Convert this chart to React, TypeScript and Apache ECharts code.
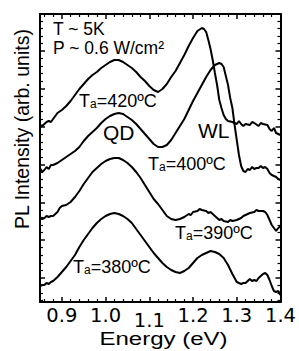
import React, { useEffect, useRef } from "react";
import * as echarts from "echarts";

// PL spectra (energy eV, intensity arb. units incl. vertical offset)
const pl420: [number, number][] = [
  [0.85,177],[0.855,176],[0.86,178],[0.865,180],[0.87,181],[0.875,180],[0.88,183],[0.885,186],[0.89,189],
  [0.90,192],[0.91,196],[0.92,201],[0.93,207],[0.94,213],[0.95,218],[0.96,223],[0.97,227],[0.98,230],[0.99,234],
  [1.00,237],[1.01,240],[1.02,242],[1.03,242],[1.04,240],[1.05,237],[1.06,234],[1.07,230],[1.08,225],[1.09,221],
  [1.10,216],[1.11,212],[1.12,210],[1.13,213],[1.14,218],[1.15,225],[1.16,231],[1.17,239],[1.18,247],[1.19,256],
  [1.20,264],[1.21,271],[1.22,274],[1.225,273],[1.23,270],[1.235,262],[1.24,253],[1.245,242],[1.25,229],[1.255,217],
  [1.26,202],[1.265,194],[1.27,187],[1.275,183],[1.28,181],[1.29,180],[1.30,178],[1.305,181],[1.31,178],[1.315,176],
  [1.32,178],[1.33,177],[1.335,180],[1.34,179],[1.35,176],[1.355,179],[1.36,178],[1.37,177],[1.375,173],[1.38,171],
  [1.385,174],[1.39,169],[1.395,168],[1.40,167],
];
const pl400: [number, number][] = [
  [0.85,134],[0.855,130],[0.86,132],[0.865,135],[0.87,133],[0.875,137],[0.88,137],[0.89,139],
  [0.90,142],[0.91,145],[0.92,148],[0.93,151],[0.94,155],[0.95,161],[0.96,166],[0.97,170],[0.98,174],[0.99,179],
  [1.00,183],[1.01,186],[1.02,188],[1.03,189],[1.04,188],[1.05,185],[1.06,182],[1.07,178],[1.08,173],[1.09,168],
  [1.10,163],[1.11,158],[1.12,155],[1.13,155],[1.14,157],[1.15,162],[1.16,169],[1.17,176],[1.18,183],[1.19,192],
  [1.20,201],[1.21,209],[1.22,217],[1.23,225],[1.24,232],[1.25,237],[1.26,239],[1.265,238],[1.27,235],[1.275,226],
  [1.28,217],[1.285,204],[1.29,194],[1.295,177],[1.30,162],[1.305,147],[1.31,136],[1.315,131],[1.32,130],[1.325,133],
  [1.33,132],[1.335,135],[1.34,133],[1.345,134],[1.35,134],[1.355,136],[1.36,134],[1.365,135],[1.37,133],[1.375,129],
  [1.38,127],[1.385,126],[1.39,125],[1.395,123],[1.40,122],
];
const pl390: [number, number][] = [
  [0.85,84],[0.855,83],[0.86,84],[0.865,86],[0.87,85],[0.875,86],[0.88,86],[0.885,88],[0.89,90],[0.895,94],
  [0.90,96],[0.91,97],[0.92,100],[0.93,105],[0.94,111],[0.95,118],[0.96,124],[0.97,130],[0.98,134],[0.99,138],
  [1.00,141],[1.01,143],[1.02,144],[1.03,144],[1.04,142],[1.05,139],[1.06,135],[1.07,130],[1.08,124],[1.09,117],
  [1.10,110],[1.11,103],[1.12,98],[1.13,92],[1.14,86],[1.15,83],[1.16,82],[1.17,83],[1.18,85],[1.19,88],[1.195,87],
  [1.20,90],[1.21,91],[1.215,93],[1.22,92],[1.23,91],[1.235,89],[1.24,90],[1.25,86],[1.26,82],[1.265,83],[1.27,81],
  [1.28,80],[1.285,82],[1.29,81],[1.30,82],[1.31,84],[1.315,86],[1.32,87],[1.33,89],[1.34,90],[1.345,92],[1.35,91],
  [1.36,91],[1.365,90],[1.37,87],[1.375,82],[1.38,77],[1.385,74],[1.39,71],[1.395,74],[1.40,76],
];
const pl380: [number, number][] = [
  [0.85,16],[0.855,17],[0.86,17],[0.865,19],[0.87,18],[0.875,20],[0.88,21],[0.89,25],
  [0.90,30],[0.91,35],[0.92,41],[0.93,47],[0.94,55],[0.95,62],[0.96,68],[0.97,74],[0.98,79],[0.99,83],
  [1.00,86],[1.01,88],[1.02,89],[1.03,88],[1.04,86],[1.05,83],[1.06,79],[1.07,73],[1.08,67],[1.09,61],
  [1.10,55],[1.11,49],[1.12,44],[1.13,39],[1.14,35],[1.15,32],[1.16,30],[1.17,29],[1.18,31],[1.19,34],
  [1.20,39],[1.21,44],[1.22,47],[1.23,49],[1.24,51],[1.25,50],[1.26,48],[1.27,44],[1.28,37],[1.29,28],
  [1.30,20],[1.31,18],[1.315,19],[1.32,19],[1.325,21],[1.33,23],[1.335,21],[1.34,22],[1.345,21],[1.35,24],
  [1.355,26],[1.36,28],[1.365,29],[1.37,27],[1.375,22],[1.38,16],[1.385,11],[1.39,10],[1.395,11],[1.40,7],
];

const xTickLabels = [0.9, 1.0, 1.1, 1.2, 1.3, 1.4];
const xMinorTicks = Array.from({ length: 28 }, (_, i) => +(0.86 + 0.02 * i).toFixed(2)).filter(
  (v) => !xTickLabels.some((m) => Math.abs(m - v) < 1e-6)
);
const yMajorBase = 24;
const yMajorStep = 37.83;
const yMajorTicks = Array.from({ length: 7 }, (_, i) => +(yMajorBase + i * yMajorStep).toFixed(2));
const yMinorTicks = Array.from({ length: 38 }, (_, i) => i - 3)
  .filter((k) => k % 5 !== 0)
  .map((k) => +(yMajorBase + (k * yMajorStep) / 5).toFixed(2))
  .filter((v) => v > 0 && v < 288);

const annealTemps = [420, 400, 390, 380];

const FONT = '"Liberation Sans", Arial, sans-serif';
const WIDE = '"DejaVu Sans", Verdana, sans-serif';

export default function App() {
  const ref = useRef<HTMLDivElement>(null);
  useEffect(() => {
    document.body.style.margin = "0";
    if (!ref.current) return;
    const chart = echarts.init(ref.current, undefined, { renderer: "svg" });
    const blank = {
      type: "value",
      min: 0.85,
      max: 1.4,
      gridIndex: 0,
      splitLine: { show: false },
      axisLabel: { show: false },
      axisLine: { show: false, onZero: false },
      axisTick: { show: false },
    };
    const line = { show: true, onZero: false, lineStyle: { color: "#000", width: 2 } };
    const major = (vals: number[]) => ({ show: true, inside: true, length: 5, lineStyle: { color: "#000", width: 1.5 }, customValues: vals });
    const minor = (vals: number[]) => ({ show: true, inside: true, length: 3, lineStyle: { color: "#000", width: 1.2 }, customValues: vals });
    const yBlank = { ...blank, min: 0, max: 288 };

    const taText = (t: number, x: number, y: number) => ({
      type: "text",
      x,
      y,
      style: {
        text: `{t|T}{s|a}{t|=${t}ºC}`,
        verticalAlign: "middle",
        align: "left",
        rich: {
          t: { fontSize: 18, fontFamily: FONT, fill: "#000", lineHeight: 18 },
          s: { fontSize: 12, fontFamily: FONT, fill: "#000", verticalAlign: "bottom", lineHeight: 1 },
        },
      },
    });

    const mk = (d: [number, number][]) => ({
      type: "line",
      data: d,
      showSymbol: false,
      symbol: "none",
      lineStyle: { color: "#000", width: 2 },
      xAxisIndex: 0,
      yAxisIndex: 0,
    });

    chart.setOption({
      animation: false,
      grid: { left: 40, right: 16, top: 14, bottom: 49 },
      xAxis: [
        {
          ...blank,
          position: "bottom",
          axisLine: line,
          axisTick: major(xTickLabels),
          axisLabel: {
            show: true,
            customValues: xTickLabels,
            margin: 3,
            fontSize: 19.5,
            fontFamily: WIDE,
            color: "#000",
            showMaxLabel: true,
            showMinLabel: true,
            formatter: (v: number) => (Math.abs(v - 1.1) < 1e-6 ? "{low|1.1}" : v.toFixed(1)),
            rich: { low: { padding: [5, 0, 0, 0], fontSize: 19.5, fontFamily: WIDE, color: "#000" } },
          },
        },
        { ...blank, position: "bottom", axisTick: minor(xMinorTicks) },
        { ...blank, position: "top", axisLine: line, axisTick: major(xTickLabels) },
        { ...blank, position: "top", axisTick: minor(xMinorTicks) },
      ],
      yAxis: [
        { ...yBlank, position: "left", axisLine: line, axisTick: major(yMajorTicks) },
        { ...yBlank, position: "left", axisTick: minor(yMinorTicks) },
        { ...yBlank, position: "right", axisLine: line, axisTick: major(yMajorTicks) },
        { ...yBlank, position: "right", axisTick: minor(yMinorTicks) },
      ],
      series: [mk(pl420), mk(pl400), mk(pl390), mk(pl380)],
      graphic: [
        {
          type: "text",
          x: 22,
          y: 129,
          rotation: Math.PI / 2,
          style: { text: "PL Intensity (arb. units)", fontSize: 19.5, fontFamily: FONT, fill: "#000", align: "center", verticalAlign: "middle" },
        },
        {
          type: "text",
          x: 163.5,
          y: 338.5,
          scaleX: 1.3,
          style: { text: "Energy (eV)", fontSize: 18.5, fontFamily: FONT, fill: "#000", align: "center", verticalAlign: "middle", lineHeight: 17 },
        },
        { type: "text", x: 53, y: 28.5, style: { text: "T ~ 5K", fontSize: 17.5, lineHeight: 15, fontFamily: FONT, fill: "#000", align: "left", verticalAlign: "middle" } },
        { type: "text", x: 53, y: 48, style: { text: "P ~ 0.6 W/cm²", fontSize: 17.5, lineHeight: 15, fontFamily: FONT, fill: "#000", align: "left", verticalAlign: "middle" } },
        { type: "text", x: 103, y: 132.5, style: { text: "QD", fontSize: 21, fontFamily: FONT, fill: "#000", align: "left", verticalAlign: "middle" } },
        { type: "text", x: 198, y: 130.5, style: { text: "WL", fontSize: 21, fontFamily: FONT, fill: "#000", align: "left", verticalAlign: "middle" } },
        taText(annealTemps[0], 79, 101),
        taText(annealTemps[1], 148, 163.5),
        taText(annealTemps[2], 175, 233),
        taText(annealTemps[3], 73, 266.5),
      ],
    });
    return () => chart.dispose();
  }, []);
  return <div ref={ref} style={{ width: 299, height: 351 }} />;
}
